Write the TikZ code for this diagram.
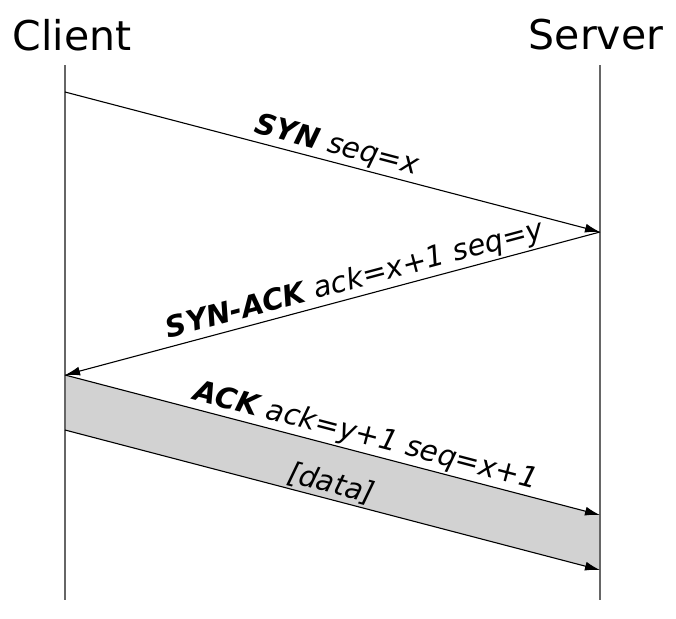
\documentclass[tikz,border=0pt]{standalone}
\usepackage{fontspec}
\setmainfont{DejaVu Sans}
\usetikzlibrary{%
  arrows.meta,%
  calc%
}
\tikzset{>={Latex[length=15pt,width=9pt]}}
\tikzset{
  lifeline/.style={draw=gray!80!black,line width=1.3pt},
  msg/.style={->,line width=1.1pt},
  msglabel/.style={midway,sloped,above,inner sep=2pt,
    font=\fontsize{29}{32}\selectfont\itshape},
  party/.style={font=\fontsize{41}{44}\selectfont,inner sep=0pt}
}

\begin{document}
\begin{tikzpicture}[x=1pt,y=-1pt]
      \useasboundingbox (0,0) rectangle (676,618);

      \node[party] (client) at (72,35) {Client};
      \node[party] (server) at (596,35) {Server};

      \coordinate (c0) at (65,65);   \coordinate (s0) at (600,65);
      \coordinate (c1) at (65,92);   \coordinate (s1) at (600,232);
      \coordinate (c2) at (65,375);  \coordinate (s2) at (600,515);
      \coordinate (c3) at (65,430);  \coordinate (s3) at (600,570);
      \coordinate (cend) at (65,600); \coordinate (send) at (600,600);

      % data band
      \fill[gray!35] (c2) -- (s2) -- (s3) -- (c3) -- cycle;

      \draw[lifeline] (c0) -- (cend);
      \draw[lifeline] (s0) -- (send);

      \draw[msg] (c1) -- (s1) node[msglabel]
      {\textbf{SYN} seq=x};
      \draw[msg] (s1) -- (c2) node[msglabel,pos=0.45]
      {\textbf{SYN-ACK} ack=x+1 seq=y};
      \draw[msg] (c2) -- (s2) node[msglabel,pos=0.555]
      {\textbf{ACK} ack=y+1 seq=x+1};
      \draw[msg] (c3) -- (s3) node[msglabel,pos=0.49]
      {[data]};
    \end{tikzpicture}
\end{document}
